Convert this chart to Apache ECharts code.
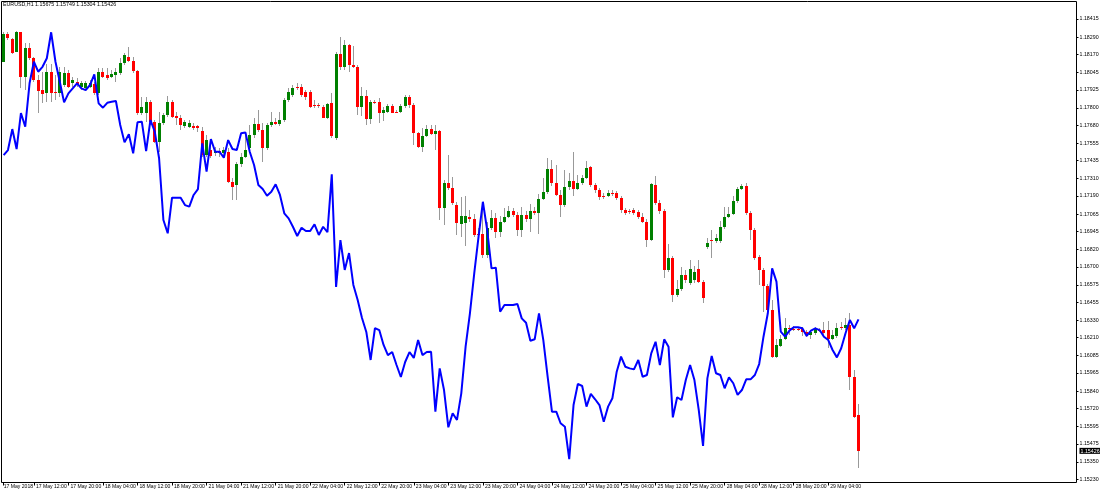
<!DOCTYPE html>
<html>
<head>
<meta charset="utf-8">
<script src="https://cdn.jsdelivr.net/npm/echarts@6/dist/echarts.min.js"></script>
<style>
html,body{margin:0;padding:0;background:#ffffff;}
#chart{width:1100px;height:493px;}
</style>
</head>
<body>
<div id="chart"></div>
<script>
// ---- Data ----
const symbolName = 'EURUSD';
const timeframe = 'H1';
const sessionDays = ['17 May','18 May','21 May','22 May','23 May','24 May','25 May','28 May','29 May'];
const firstHour = 5;   // first bar on 17 May
const lastHour = 11;   // last bar on 29 May
const shiftBars = 50;  // empty chart shift on the right

const xTickLabels = ['17 May 2018','17 May 12:00','17 May 20:00','18 May 04:00','18 May 12:00','18 May 20:00',
  '21 May 04:00','21 May 12:00','21 May 20:00','22 May 04:00','22 May 12:00','22 May 20:00',
  '23 May 04:00','23 May 12:00','23 May 20:00','24 May 04:00','24 May 12:00','24 May 20:00',
  '25 May 04:00','25 May 12:00','25 May 20:00','28 May 04:00','28 May 12:00','28 May 20:00','29 May 04:00'];

const yTickLabels = [1.18415,1.18290,1.18170,1.18045,1.17925,1.17800,1.17680,1.17555,1.17435,1.17310,
  1.17190,1.17065,1.16945,1.16820,1.16700,1.16575,1.16455,1.16330,1.16210,1.16085,1.15965,1.15840,
  1.15720,1.15595,1.15475,1.15350,1.15230];

const opens = [1.18119,1.18309,1.18276,1.18188,1.18323,1.18015,1.18216,1.18143,1.17992,1.17923,
1.17900,1.18050,1.17907,1.17900,1.17958,1.18039,1.17970,1.17981,1.17946,1.17935,
1.17946,1.17963,1.17900,1.18050,1.18027,1.18015,1.18027,1.18039,1.18108,1.18154,
1.18124,1.18055,1.17762,1.17762,1.17842,1.17704,1.17565,1.17693,1.17750,1.17842,
1.17745,1.17727,1.17676,1.17669,1.17674,1.17674,1.17640,1.17473,1.17508,1.17485,
1.17501,1.17485,1.17496,1.17289,1.17266,1.17409,1.17462,1.17520,1.17612,1.17686,
1.17646,1.17520,1.17681,1.17704,1.17686,1.17716,1.17854,1.17889,1.17946,1.17946,
1.17911,1.17911,1.17819,1.17819,1.17808,1.17732,1.17831,1.17591,1.18172,1.18082,
1.18235,1.18096,1.18082,1.17806,1.17882,1.17723,1.17840,1.17840,1.17764,1.17771,
1.17813,1.17771,1.17771,1.17813,1.17875,1.17819,1.17626,1.17529,1.17605,1.17653,
1.17619,1.17640,1.17107,1.17280,1.17245,1.17127,1.16996,1.17003,1.17046,1.17031,
1.16927,1.16927,1.16781,1.16968,1.17037,1.16941,1.17010,1.17044,1.17086,1.17058,
1.16954,1.17058,1.17031,1.17086,1.17072,1.17169,1.17217,1.17377,1.17280,1.17197,
1.17127,1.17252,1.17294,1.17238,1.17280,1.17314,1.17390,1.17266,1.17231,1.17190,
1.17190,1.17210,1.17210,1.17176,1.17093,1.17086,1.17093,1.17079,1.17044,1.17010,
1.16885,1.17266,1.17141,1.17086,1.16678,1.16761,1.16505,1.16546,1.16643,1.16588,
1.16608,1.16685,1.16595,1.16837,1.16885,1.16878,1.16878,1.16975,1.17044,1.17065,
1.17155,1.17238,1.17259,1.17072,1.16954,1.16768,1.16678,1.16567,1.16401,1.16076,
1.16152,1.16200,1.16276,1.16269,1.16269,1.16269,1.16251,1.16228,1.16244,1.16262,
1.16262,1.16262,1.16200,1.16221,1.16281,1.16276,1.16297,1.15937,1.15675];

const closes = [1.18309,1.18281,1.18177,1.18323,1.18015,1.18216,1.18143,1.17992,1.17918,1.17896,
1.18050,1.17900,1.17900,1.18050,1.18039,1.17946,1.17992,1.17958,1.17970,1.17970,
1.17970,1.17900,1.18050,1.18015,1.18008,1.18032,1.18050,1.18108,1.18165,1.18124,
1.18055,1.17762,1.17808,1.17842,1.17704,1.17565,1.17693,1.17750,1.17842,1.17738,
1.17727,1.17681,1.17700,1.17693,1.17662,1.17658,1.17473,1.17577,1.17469,1.17501,
1.17485,1.17508,1.17289,1.17254,1.17409,1.17462,1.17508,1.17612,1.17686,1.17646,
1.17520,1.17681,1.17704,1.17688,1.17716,1.17854,1.17907,1.17935,1.17935,1.17889,
1.17877,1.17808,1.17813,1.17813,1.17732,1.17826,1.17605,1.18172,1.18082,1.18235,
1.18096,1.18082,1.17806,1.17882,1.17723,1.17840,1.17835,1.17764,1.17785,1.17813,
1.17764,1.17766,1.17813,1.17875,1.17819,1.17626,1.17529,1.17605,1.17653,1.17619,
1.17643,1.17107,1.17280,1.17245,1.17141,1.17003,1.17051,1.17051,1.17028,1.16920,
1.16923,1.16781,1.16968,1.17037,1.16941,1.17010,1.17044,1.17086,1.17058,1.16954,
1.17058,1.17031,1.17086,1.17072,1.17169,1.17217,1.17377,1.17280,1.17197,1.17127,
1.17252,1.17294,1.17238,1.17280,1.17314,1.17383,1.17266,1.17231,1.17183,1.17188,
1.17210,1.17208,1.17176,1.17093,1.17072,1.17084,1.17072,1.17044,1.17010,1.16885,
1.17273,1.17141,1.17086,1.16678,1.16761,1.16505,1.16546,1.16643,1.16608,1.16685,
1.16664,1.16595,1.16484,1.16864,1.16883,1.16899,1.16975,1.17044,1.17065,1.17155,
1.17238,1.17259,1.17072,1.16954,1.16761,1.16678,1.16567,1.16401,1.16076,1.16159,
1.16200,1.16276,1.16273,1.16267,1.16267,1.16251,1.16228,1.16251,1.16267,1.16260,
1.16244,1.16200,1.16228,1.16274,1.16279,1.16297,1.15937,1.15660,1.15426];

const lows = [1.18115,1.18269,1.18170,1.18184,1.17935,1.17923,1.18131,1.17981,1.17762,1.17831,
1.17842,1.17842,1.17854,1.17877,1.17946,1.17935,1.17946,1.17946,1.17923,1.17923,
1.17935,1.17889,1.17889,1.18004,1.17992,1.18004,1.17981,1.18027,1.18096,1.18115,
1.18039,1.17750,1.17750,1.17704,1.17681,1.17554,1.17496,1.17681,1.17738,1.17727,
1.17681,1.17646,1.17658,1.17658,1.17646,1.17635,1.17462,1.17462,1.17451,1.17469,
1.17462,1.17455,1.17278,1.17162,1.17162,1.17392,1.17451,1.17508,1.17589,1.17635,
1.17427,1.17508,1.17669,1.17681,1.17676,1.17704,1.17842,1.17877,1.17923,1.17877,
1.17854,1.17797,1.17797,1.17801,1.17727,1.17723,1.17589,1.17577,1.18062,1.18062,
1.18050,1.18073,1.17750,1.17745,1.17681,1.17686,1.17824,1.17693,1.17709,1.17762,
1.17762,1.17762,1.17762,1.17801,1.17801,1.17543,1.17520,1.17496,1.17598,1.17612,
1.17508,1.17024,1.16989,1.17231,1.17127,1.16920,1.16906,1.16844,1.17010,1.16906,
1.16899,1.16761,1.16761,1.16954,1.16899,1.16906,1.17003,1.17037,1.17044,1.16913,
1.16906,1.17010,1.16941,1.17058,1.16927,1.17162,1.17204,1.17259,1.17190,1.17044,
1.17114,1.17231,1.17190,1.17231,1.17266,1.17307,1.17252,1.17210,1.17162,1.17169,
1.17183,1.17190,1.17162,1.17072,1.17058,1.17065,1.17058,1.17031,1.17003,1.16837,
1.16878,1.17127,1.17065,1.16622,1.16664,1.16456,1.16491,1.16532,1.16588,1.16574,
1.16588,1.16588,1.16449,1.16823,1.16761,1.16864,1.16864,1.16961,1.17037,1.17058,
1.17141,1.17231,1.17058,1.16885,1.16747,1.16574,1.16387,1.16387,1.16069,1.16069,
1.16145,1.16193,1.16228,1.16256,1.16256,1.16221,1.16214,1.16200,1.16228,1.16249,
1.16228,1.16138,1.16193,1.16207,1.16262,1.16262,1.15847,1.15653,1.15304];

const highs = [1.18327,1.18323,1.18285,1.18331,1.18327,1.18246,1.18246,1.18154,1.18027,1.18050,
1.18101,1.18101,1.18027,1.18084,1.18084,1.18062,1.18015,1.18004,1.17986,1.17986,
1.17992,1.17981,1.18078,1.18078,1.18073,1.18062,1.18073,1.18143,1.18177,1.18223,
1.18154,1.18062,1.17877,1.17877,1.17854,1.17716,1.17769,1.17762,1.17884,1.17854,
1.17769,1.17750,1.17716,1.17716,1.17693,1.17681,1.17669,1.17612,1.17554,1.17531,
1.17520,1.17531,1.17520,1.17312,1.17427,1.17485,1.17612,1.17681,1.17729,1.17785,
1.17693,1.17693,1.17773,1.17727,1.17769,1.17866,1.17935,1.17958,1.17970,1.17963,
1.17923,1.17923,1.17854,1.17831,1.17819,1.17831,1.17900,1.18188,1.18292,1.18269,
1.18242,1.18230,1.18096,1.17946,1.17923,1.17854,1.17854,1.17866,1.17808,1.17826,
1.17826,1.17785,1.17826,1.17889,1.17889,1.17831,1.17635,1.17658,1.17681,1.17681,
1.17681,1.17646,1.17300,1.17473,1.17321,1.17148,1.17183,1.17190,1.17093,1.17065,
1.16968,1.17093,1.17010,1.17093,1.17072,1.17051,1.17107,1.17121,1.17107,1.17079,
1.17114,1.17086,1.17134,1.17114,1.17204,1.17314,1.17453,1.17439,1.17404,1.17231,
1.17370,1.17349,1.17494,1.17335,1.17335,1.17432,1.17397,1.17280,1.17245,1.17210,
1.17231,1.17231,1.17224,1.17190,1.17107,1.17100,1.17107,1.17093,1.17072,1.17031,
1.17280,1.17328,1.17162,1.17100,1.16858,1.16775,1.16608,1.16698,1.16678,1.16747,
1.16705,1.16747,1.16608,1.16899,1.16954,1.16927,1.17017,1.17114,1.17114,1.17190,
1.17252,1.17273,1.17280,1.17086,1.16968,1.16781,1.16691,1.16581,1.16470,1.16200,
1.16228,1.16345,1.16297,1.16290,1.16283,1.16283,1.16262,1.16262,1.16283,1.16276,
1.16318,1.16325,1.16262,1.16311,1.16318,1.16345,1.16380,1.15986,1.15749];

const blueLine = [1.17473,1.17508,1.17653,1.17515,1.17764,1.17669,1.17970,1.18119,1.18050,1.18084,
1.18143,1.18323,1.18119,1.17981,1.17838,1.17900,1.17935,1.17970,1.17935,1.17923,
1.17958,1.18032,1.17831,1.17801,1.17835,1.17842,1.17847,1.17681,1.17561,1.17617,
1.17485,1.17700,1.17704,1.17501,1.17716,1.17635,1.17451,1.17024,1.16932,1.17178,
1.17178,1.17178,1.17127,1.17116,1.17197,1.17238,1.17554,1.17358,1.17584,1.17496,
1.17496,1.17455,1.17577,1.17515,1.17508,1.17624,1.17630,1.17496,1.17404,1.17266,
1.17238,1.17192,1.17219,1.17271,1.17197,1.17070,1.17035,1.16977,1.16913,1.16970,
1.16948,1.16948,1.16994,1.16920,1.16977,1.16939,1.17340,1.16560,1.16885,1.16678,
1.16795,1.16574,1.16470,1.16345,1.16249,1.16055,1.16276,1.16262,1.16159,1.16089,
1.16110,1.16020,1.15937,1.16041,1.16110,1.16069,1.16193,1.16089,1.16110,1.16112,
1.15697,1.15997,1.15847,1.15589,1.15686,1.15640,1.15824,1.16147,1.16378,1.16655,
1.16908,1.17150,1.16954,1.16689,1.16694,1.16389,1.16435,1.16435,1.16435,1.16442,
1.16343,1.16313,1.16188,1.16198,1.16378,1.16193,1.15939,1.15697,1.15697,1.15617,
1.15593,1.15368,1.15743,1.15889,1.15875,1.15732,1.15820,1.15783,1.15743,1.15628,
1.15732,1.15790,1.15974,1.16078,1.16008,1.15997,1.15990,1.16055,1.15939,1.15951,
1.16101,1.16181,1.16020,1.16198,1.16147,1.15658,1.15797,1.15778,1.15916,1.16020,
1.15916,1.15709,1.15460,1.15928,1.16083,1.15963,1.15951,1.15859,1.15935,1.15894,
1.15813,1.15847,1.15921,1.15921,1.15951,1.16027,1.16216,1.16378,1.16689,1.16597,
1.16251,1.16216,1.16258,1.16281,1.16281,1.16274,1.16221,1.16258,1.16274,1.16262,
1.16216,1.16193,1.16124,1.16073,1.16136,1.16240,1.16332,1.16274,1.16336];

// visible price range of the chart window
const priceMin = 1.15207;
const priceMax = 1.18536;

// ---- Build ----
const categories = [];
sessionDays.forEach((d, di) => {
  const h0 = di === 0 ? firstHour : 0;
  const h1 = di === sessionDays.length - 1 ? lastHour : 23;
  for (let h = h0; h <= h1; h++) categories.push(d + ' ' + String(h).padStart(2, '0') + ':00');
});
for (let i = 0; i < shiftBars; i++) categories.push('');

const labelSet = new Set(xTickLabels.slice(1));
const showLabel = (i, v) => i === 0 || labelSet.has(v);

const candleData = opens.map((o, i) => [i, o, closes[i], lows[i], highs[i]]);
const last = opens.length - 1;
const lastClose = closes[last];
const yLabelValues = yTickLabels.concat([lastClose]);
const FONT = 'Liberation Sans';
const FS = 5.3;
const FSX = 5.1;

const BULL = '#008000', BEAR = '#ff0000', WICK = '#999999';

const chart = echarts.init(document.getElementById('chart'), null, {renderer: 'canvas'});
chart.setOption({
  animation: false,
  backgroundColor: '#ffffff',
  title: {
    text: symbolName + ',' + timeframe + ' ' + opens[last].toFixed(5) + ' ' + highs[last].toFixed(5) + ' ' +
          lows[last].toFixed(5) + ' ' + lastClose.toFixed(5),
    left: 3, top: 2, padding: 0,
    textStyle: {fontFamily: FONT, fontSize: FS, fontWeight: 'normal', color: '#000'}
  },
  grid: {left: 1.5, top: 1.5, right: 23.5, bottom: 10.5, containLabel: false, outerBoundsMode: 'none',
    show: true, borderColor: '#000', borderWidth: 1, backgroundColor: 'transparent'},
  xAxis: {
    type: 'category', data: categories, boundaryGap: true,
    axisLine: {show: false},
    axisTick: {show: true, alignWithLabel: true, interval: showLabel, length: 3, lineStyle: {color: '#000', width: 1}},
    axisLabel: {
      interval: showLabel, align: 'left', margin: 2,
      showMinLabel: true, hideOverlap: false,
      fontFamily: FONT, fontSize: FSX, color: '#000',
      formatter: (v, i) => i === 0 ? '{a|' + xTickLabels[0] + '}' : '{b|' + v + '}',
      rich: {
        a: {fontFamily: FONT, fontSize: FSX, color: '#000', padding: [0, 0, 0, 0]},
        b: {fontFamily: FONT, fontSize: FSX, color: '#000', padding: [0, 0, 0, 2]}
      }
    },
    splitLine: {show: false}
  },
  yAxis: {
    type: 'value', position: 'right', min: priceMin, max: priceMax, scale: true,
    axisLine: {show: false},
    axisTick: {show: true, customValues: yTickLabels, length: 2, lineStyle: {color: '#000'}},
    axisLabel: {
      customValues: yLabelValues, margin: 3, fontFamily: FONT, fontSize: FS, color: '#000',
      hideOverlap: false, showMinLabel: true, showMaxLabel: true,
      formatter: v => Math.abs(v - lastClose) < 1e-9 ? '{hl|' + v.toFixed(5) + '}' : v.toFixed(5),
      rich: {
        hl: {backgroundColor: '#000', color: '#fff', fontFamily: FONT, fontSize: FS, padding: [1, 1, 0, 1]}
      }
    },
    splitLine: {show: false}
  },
  series: [
    {
      type: 'custom',
      name: 'candles',
      clip: true,
      encode: {x: 0, y: [1, 2, 3, 4]},
      data: candleData,
      renderItem: function (params, api) {
        const k = api.value(0);
        const o = api.value(1), c = api.value(2), l = api.value(3), h = api.value(4);
        const pO = api.coord([k, o]), pC = api.coord([k, c]);
        const pL = api.coord([k, l]), pH = api.coord([k, h]);
        const cx = pO[0];
        const bx = Math.round(cx - 1.5);
        let top = Math.round(Math.min(pO[1], pC[1]));
        let bot = Math.round(Math.max(pO[1], pC[1]));
        if (bot - top < 1) bot = top + 1;
        const wt = Math.round(pH[1]);
        let wb = Math.round(pL[1]);
        if (wb - wt < 1) wb = wt + 1;
        return {
          type: 'group',
          children: [
            {type: 'rect', shape: {x: bx + 1, y: wt, width: 1, height: wb - wt}, style: {fill: WICK}},
            {type: 'rect', shape: {x: bx, y: top, width: 3, height: bot - top}, style: {fill: c >= o ? BULL : BEAR}}
          ]
        };
      },
      z: 2
    },
    {
      type: 'line',
      name: 'overlay',
      data: blueLine,
      symbol: 'none',
      lineStyle: {color: '#0000ff', width: 2},
      z: 3
    }
  ]
});
</script>
</body>
</html>
